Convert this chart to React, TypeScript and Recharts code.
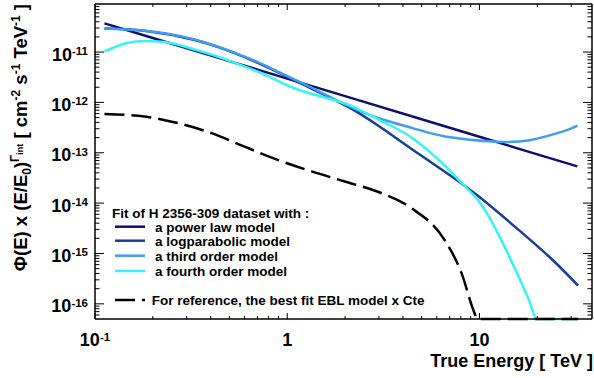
import React from 'react';
import { LineChart, Line, XAxis, YAxis, Legend } from 'recharts';

const FONT = '"Liberation Sans", Arial, Helvetica, sans-serif';

// ---- data (energy in TeV, flux x (E/E0)^Gamma in cm^-2 s^-1 TeV^-1) ----
const powerLawE = [0.112, 0.2, 0.5, 1, 2, 5, 10, 20, 32.3];
const powerLawF = [3.72e-11, 1.9e-11, 6.61e-12, 2.97e-12, 1.33e-12, 4.63e-13, 2.08e-13, 9.3e-14, 5.37e-14];

const logParE = [0.112, 0.181, 0.33, 0.6, 1.09, 1.36, 2.03, 3.02, 4.49, 6.75, 10, 16.1, 23.9, 32.6];
const logParF = [2.95e-11, 2.66e-11, 1.74e-11, 7.94e-12, 2.75e-12, 1.82e-12, 8.51e-13, 3.31e-13, 1.15e-13, 3.98e-14, 1.32e-14, 2.88e-15, 7.59e-16, 2.29e-16];

const thirdE = [0.112, 0.181, 0.33, 0.6, 0.8, 1.09, 1.36, 2.03, 3.02, 4.49, 6.75, 12.3, 18.2, 27, 32.4];
const thirdF = [2.95e-11, 2.66e-11, 1.78e-11, 8.13e-12, 5.01e-12, 2.88e-12, 1.91e-12, 8.91e-13, 4.79e-13, 3.09e-13, 2.09e-13, 1.66e-13, 1.78e-13, 2.63e-13, 3.47e-13];

const fourthE = [0.112, 0.143, 0.181, 0.23, 0.33, 0.49, 0.734, 1.09, 1.36, 2.03, 3.02, 4.49, 5.5, 6.75, 8.17, 10, 11, 12.7, 15.5, 18.2, 19.8, 25, 32.3];
const fourthF = [1.02e-11, 1.48e-11, 1.66e-11, 1.58e-11, 1.12e-11, 6.92e-12, 3.8e-12, 1.91e-12, 1.45e-12, 9.33e-13, 4.47e-13, 1.95e-13, 1.05e-13, 5.13e-14, 2.4e-14, 1.05e-14, 6.03e-15, 2.19e-15, 4.47e-16, 1.12e-16, 5e-17, 5e-17, 5e-17];

const eblE = [0.112, 0.181, 0.269, 0.404, 0.6, 0.891, 1.34, 1.99, 2.94, 4.43, 6.58, 8.05, 9.42, 9.75, 15, 32.6];
const eblF = [5.89e-13, 5.25e-13, 3.89e-13, 2.45e-13, 1.32e-13, 7.24e-14, 4.27e-14, 2.69e-14, 1.7e-14, 7.94e-15, 1.86e-15, 4.17e-16, 6.61e-17, 5e-17, 5e-17, 5e-17];

// ---- axes ----
const xDomain = [0.1, 38.5];
const yDomain = [5e-17, 9e-11];
const xTicks = [0.1, 0.2, 0.3, 0.4, 0.5, 0.6, 0.7, 0.8, 0.9, 1, 2, 3, 4, 5, 6, 7, 8, 9, 10, 20, 30];
const xMajorTicks = [0.1, 1, 10];
const xMajorBase = ['10', '1', '10'];
const xMajorExp = ['-1', '', ''];
const yTicks = [
  6e-17, 7e-17, 8e-17, 9e-17,
  1e-16, 2e-16, 3e-16, 4e-16, 5e-16, 6e-16, 7e-16, 8e-16, 9e-16,
  1e-15, 2e-15, 3e-15, 4e-15, 5e-15, 6e-15, 7e-15, 8e-15, 9e-15,
  1e-14, 2e-14, 3e-14, 4e-14, 5e-14, 6e-14, 7e-14, 8e-14, 9e-14,
  1e-13, 2e-13, 3e-13, 4e-13, 5e-13, 6e-13, 7e-13, 8e-13, 9e-13,
  1e-12, 2e-12, 3e-12, 4e-12, 5e-12, 6e-12, 7e-12, 8e-12, 9e-12,
  1e-11, 2e-11, 3e-11, 4e-11, 5e-11, 6e-11, 7e-11, 8e-11,
];
const yMajorTicks = [1e-16, 1e-15, 1e-14, 1e-13, 1e-12, 1e-11];
const yMajorExp = ['-16', '-15', '-14', '-13', '-12', '-11'];

const series = [
  { name: 'a power law model', E: powerLawE, F: powerLawF, color: '#0e0e6e', curve: 'linear' },
  { name: 'a logparabolic model', E: logParE, F: logParF, color: '#173e98', curve: 'natural' },
  { name: 'a third order model', E: thirdE, F: thirdF, color: '#3f9cf2', curve: 'natural' },
  { name: 'a fourth order model', E: fourthE, F: fourthF, color: '#36f4f4', curve: 'monotone' },
];
const eblName = 'For reference, the best fit EBL model x Cte';
const legendTitle = 'Fit of H 2356-309 dataset with :';

const toRows = (E: number[], F: number[]) => E.map((e, i) => ({ e, f: F[i] }));

const findIdx = (arr: number[], v: number) => arr.findIndex((t) => Math.abs(t - v) / t < 1e-6);
const isMajor = (v: number) => Math.abs(Math.log10(v) - Math.round(Math.log10(v))) < 1e-6;

const BottomTick = (p: any) => {
  const { x, y, payload } = p;
  const v = payload.value;
  const major = isMajor(v);
  const idx = findIdx(xMajorTicks, v);
  return (
    <g>
      <line x1={x} x2={x} y1={y} y2={y - (major ? 6 : 3)} stroke="#000" strokeWidth={1} />
      {idx >= 0 && (
        <text x={x} y={y + 27} textAnchor="middle" fontFamily={FONT} fontWeight="bold" fontSize={18} fill="#000">
          {xMajorBase[idx]}
          {xMajorExp[idx] ? <tspan dy={-5} fontSize={11.5}>{xMajorExp[idx]}</tspan> : null}
        </text>
      )}
    </g>
  );
};

const TopTick = (p: any) => {
  const { x, y, payload } = p;
  const major = isMajor(payload.value);
  return <line x1={x} x2={x} y1={y} y2={y + (major ? 6 : 3)} stroke="#000" strokeWidth={1} />;
};

const LeftTick = (p: any) => {
  const { x, y, payload } = p;
  const v = payload.value;
  const major = isMajor(v);
  const idx = findIdx(yMajorTicks, v);
  return (
    <g>
      <line x1={x} x2={x + (major ? 9 : 4.5)} y1={y} y2={y} stroke="#000" strokeWidth={1} />
      {idx >= 0 && (
        <text x={88} y={y + 8.5} textAnchor="end" fontFamily={FONT} fontWeight="bold" fontSize={18} fill="#000">
          10<tspan dy={-5.5} fontSize={11.5}>{yMajorExp[idx]}</tspan>
        </text>
      )}
    </g>
  );
};

const RightTick = (p: any) => {
  const { x, y, payload } = p;
  const major = isMajor(payload.value);
  return <line x1={x} x2={x - (major ? 9 : 4.5)} y1={y} y2={y} stroke="#000" strokeWidth={1} />;
};

const legendRowY = [26.7, 40.7, 55.7, 71];

const renderLegend = () => (
  <svg width={340} height={110} style={{ overflow: 'visible' }}>
    <text x={7} y={17.5} fontFamily={FONT} fontWeight="bold" fontSize={13.5} fill="#000">{legendTitle}</text>
    {series.map((s, i) => {
      const cy = legendRowY[i];
      return (
        <g key={s.name}>
          <line x1={10} x2={40} y1={cy} y2={cy} stroke={s.color} strokeWidth={2.5} />
          <text x={50} y={cy + 5} fontFamily={FONT} fontWeight="bold" fontSize={13.5} fill="#000">{s.name}</text>
        </g>
      );
    })}
    <line x1={10} x2={40} y1={100} y2={100} stroke="#000" strokeWidth={2.5} strokeDasharray="20 7" />
    <text x={46.7} y={105} fontFamily={FONT} fontWeight="bold" fontSize={13.5} fill="#000">{eblName}</text>
  </svg>
);

const axisLineStyle = { stroke: '#000', strokeWidth: 1.5 };

export default function App() {
  return (
    <div style={{ position: 'absolute', left: 0, top: 0, width: 594, height: 378, background: '#fff' }}>
      <LineChart width={594} height={378} margin={{ top: 0, right: 0, bottom: 0, left: 0 }}>
        <XAxis xAxisId="b" dataKey="e" type="number" scale="log" domain={xDomain} ticks={xTicks} interval={0}
          orientation="bottom" height={59} tick={<BottomTick />} tickLine={false} tickSize={0} tickMargin={0} axisLine={axisLineStyle} />
        <XAxis xAxisId="t" dataKey="e" type="number" scale="log" domain={xDomain} ticks={xTicks} interval={0} allowDataOverflow
          orientation="top" height={4} tick={<TopTick />} tickLine={false} tickSize={0} tickMargin={0} axisLine={axisLineStyle} />
        <YAxis yAxisId="l" type="number" scale="log" domain={yDomain} ticks={yTicks} interval={0}
          orientation="left" width={95} tick={<LeftTick />} tickLine={false} tickSize={0} tickMargin={0} axisLine={axisLineStyle} />
        <YAxis yAxisId="r" type="number" scale="log" domain={yDomain} ticks={yTicks} interval={0} allowDataOverflow
          orientation="right" width={2} tick={<RightTick />} tickLine={false} tickSize={0} tickMargin={0} axisLine={axisLineStyle} />
        {series.map((s) => (
          <Line key={s.name} xAxisId="b" yAxisId="l" data={toRows(s.E, s.F)} dataKey="f" type={s.curve as any}
            stroke={s.color} strokeWidth={2.5} dot={false} activeDot={false} isAnimationActive={false} name={s.name} />
        ))}
        <Line xAxisId="b" yAxisId="l" data={toRows(eblE, eblF)} dataKey="f" type="monotone" stroke="#000"
          strokeWidth={2.5} strokeDasharray="20 7" dot={false} activeDot={false} isAnimationActive={false} name={eblName} />
        <Legend layout="vertical" align="center" verticalAlign="middle" content={renderLegend}
          wrapperStyle={{ position: 'absolute', left: 105, top: 200, width: 340, height: 110 }} />
      </LineChart>
      <svg width={594} height={378} style={{ position: 'absolute', left: 0, top: 0, pointerEvents: 'none' }}>
        <text transform="rotate(-90)" x={-4} y={27} textAnchor="end" fontFamily={FONT} fontWeight="bold" fontSize={18.5} fill="#000">
          {'Φ(E) x (E/E'}
          <tspan dy={4} fontSize={12}>0</tspan>
          <tspan dy={-4}>)</tspan>
          <tspan dy={-8} fontSize={12}>Γ</tspan>
          <tspan dy={4} fontSize={9}>int</tspan>
          <tspan dy={4}>{' [ cm'}</tspan>
          <tspan dy={-7} fontSize={12}>-2</tspan>
          <tspan dy={7}>{' s'}</tspan>
          <tspan dy={-7} fontSize={12}>-1</tspan>
          <tspan dy={7}>{' TeV'}</tspan>
          <tspan dy={-7} fontSize={12}>-1</tspan>
          <tspan dy={7}>{' ]'}</tspan>
        </text>
        <text x={593} y={367} textAnchor="end" fontFamily={FONT} fontWeight="bold" fontSize={18} fill="#000">
          True Energy [ TeV ]
        </text>
      </svg>
    </div>
  );
}
